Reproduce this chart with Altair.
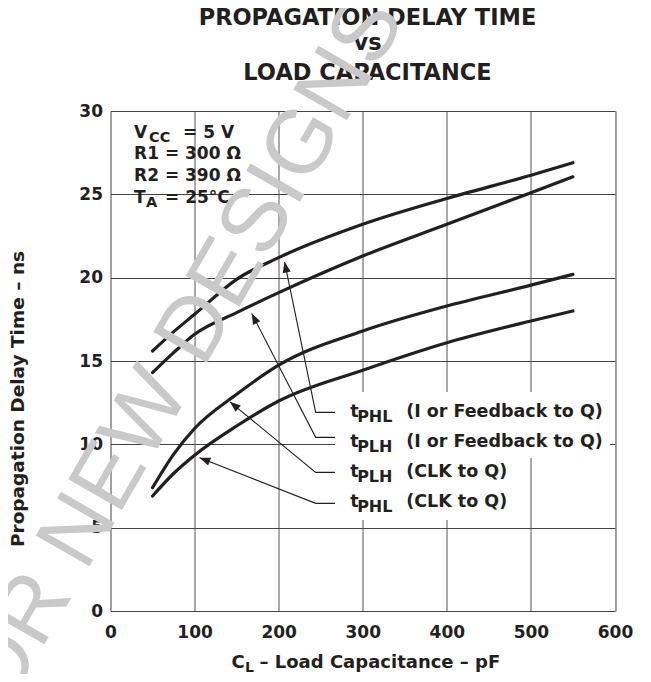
import math
import altair as alt
import pandas as pd

# ---------------- data ----------------
cap_pf = [50, 75, 100, 150, 200, 300, 400, 500, 550]
tphl_feedback = [15.6, 16.75, 17.8, 19.9, 21.2, 23.2, 24.75, 26.15, 26.9]
tplh_feedback = [14.3, 15.5, 16.6, 17.9, 19.1, 21.3, 23.2, 25.1, 26.05]
tplh_clk = [7.4, 9.4, 10.95, 13.0, 14.75, 16.8, 18.3, 19.55, 20.2]
tphl_clk = [6.9, 8.25, 9.35, 11.1, 12.6, 14.45, 16.1, 17.4, 18.0]

series_ids = ["tphl_fb", "tplh_fb", "tplh_clk", "tphl_clk"]
series_values = [tphl_feedback, tplh_feedback, tplh_clk, tphl_clk]

x_ticks = [0, 100, 200, 300, 400, 500, 600]
y_ticks = [0, 5, 10, 15, 20, 25, 30]

# curve labels
label_t = ["t", "t", "t", "t"]
label_sub = ["PHL", "PLH", "PLH", "PHL"]
label_rest = ["(I or Feedback to Q)", "(I or Feedback to Q)", "(CLK to Q)", "(CLK to Q)"]

# condition block
cond_main = ["V", "R1 = 300 \u03a9", "R2 = 390 \u03a9", "T"]
cond_sub = ["CC", "", "", "A"]
cond_rest = ["= 5 V", "", "", "= 25\u00b0C"]

title_lines = ["PROPAGATION DELAY TIME", "vs", "LOAD CAPACITANCE"]
x_title = ["C", "L", "\u2013 Load Capacitance \u2013 pF"]
y_title = "Propagation Delay Time \u2013 ns"
watermark = "NOT RECOMMENDED FOR NEW DESIGNS"

# ---------------- annotation geometry (in data units) ----------------
LABEL_X = 285
label_y = [11.62, 9.86, 8.02, 6.22]
leader_tip = [(207, 20.95), (168, 17.85), (142, 12.55), (106, 9.2)]
leader_y = [11.92, 10.42, 8.32, 6.46]
LEADER_BEND_X = 244
LEADER_END_X = 267
COND_X = 28
cond_y = [28.4, 27.1, 25.8, 24.5]

W, H = 504.5, 500.0
FONT = "DejaVu Sans"
INK = "#231f20"

xs = alt.Scale(domain=[0, 600], nice=False)
ys = alt.Scale(domain=[0, 30], nice=False)

curve_df = pd.DataFrame(
    [
        {"series": sid, "cap": c, "t": v}
        for sid, vals in zip(series_ids, series_values)
        for c, v in zip(cap_pf, vals)
    ]
)

x_axis = alt.Axis(
    values=x_ticks, format="d", title=None, ticks=False, domain=False,
    labelFont=FONT, labelFontSize=17, labelFontWeight="bold", labelColor=INK,
    labelPadding=13, gridColor="#555555", gridWidth=1, labelFlush=False,
)
y_axis = alt.Axis(
    values=y_ticks, format="d", title=None, ticks=False, domain=False,
    labelFont=FONT, labelFontSize=17, labelFontWeight="bold", labelColor=INK,
    labelPadding=8, gridColor="#444444", gridWidth=1,
)

curves = alt.Chart(curve_df).mark_line(
    strokeWidth=3.2, color=INK, interpolate="monotone", strokeCap="round"
).encode(
    x=alt.X("cap:Q", scale=xs, axis=x_axis),
    y=alt.Y("t:Q", scale=ys, axis=y_axis),
    detail="series:N",
)

# white boxes behind the labels (they hide the gridlines, as in the reference)
box_df = pd.DataFrame(
    {"x": [LEADER_END_X, LEADER_END_X], "x2": [594, 481],
     "y": [9.18, 5.46], "y2": [13.14, 9.18]}
)
boxes = alt.Chart(box_df).mark_rect(color="white").encode(
    x=alt.X("x:Q", scale=xs), x2="x2:Q",
    y=alt.Y("y:Q", scale=ys), y2="y2:Q",
)

# leader lines + arrowheads
lead_rows = []
arrow_rows = []
for i, ((tx, ty), ly) in enumerate(zip(leader_tip, leader_y)):
    lead_rows += [
        {"g": i, "o": 0, "x": tx, "y": ty},
        {"g": i, "o": 1, "x": LEADER_BEND_X, "y": ly},
        {"g": i, "o": 2, "x": LEADER_END_X, "y": ly},
    ]
    dxp = (tx - LEADER_BEND_X) * W / 600.0
    dyp = -(ty - ly) * H / 30.0
    ang = math.degrees(math.atan2(dxp, -dyp)) % 360
    arrow_rows.append({"x": tx, "y": ty, "a": ang})

leaders = alt.Chart(pd.DataFrame(lead_rows)).mark_line(
    color=INK, strokeWidth=1.1
).encode(
    x=alt.X("x:Q", scale=xs), y=alt.Y("y:Q", scale=ys),
    detail="g:N", order="o:O",
)
arrows = alt.Chart(pd.DataFrame(arrow_rows)).mark_point(
    shape="M0,0L-0.38,1L0.38,1Z", filled=True, color=INK, opacity=1, size=460,
    strokeWidth=0,
).encode(
    x=alt.X("x:Q", scale=xs), y=alt.Y("y:Q", scale=ys),
    angle=alt.Angle("a:Q", scale=None),
)

def txt(size, **kw):
    return dict(font=FONT, fontSize=size, fontWeight="bold", color=INK,
                align="left", baseline="alphabetic", **kw)

lab_df = pd.DataFrame(
    {"x": [LABEL_X] * 4, "y": label_y, "t": label_t, "s": label_sub, "r": label_rest}
)
lab_base = alt.Chart(lab_df).encode(x=alt.X("x:Q", scale=xs), y=alt.Y("y:Q", scale=ys))
lab_t = lab_base.mark_text(**txt(17.5)).encode(text="t:N")
lab_s = lab_base.mark_text(**txt(16, dx=7, dy=5)).encode(text="s:N")
lab_r = lab_base.mark_text(**txt(17.5, dx=56)).encode(text="r:N")

cond_df = pd.DataFrame(
    {"x": [COND_X] * 4, "y": cond_y, "m": cond_main, "s": cond_sub, "r": cond_rest}
)
cond_base = alt.Chart(cond_df).encode(x=alt.X("x:Q", scale=xs), y=alt.Y("y:Q", scale=ys))
cond_m = cond_base.mark_text(**txt(17)).encode(text="m:N")
cond_s1 = cond_base.transform_filter("datum.s == 'CC'").mark_text(
    **txt(14.5, dx=15, dy=4)).encode(text="s:N")
cond_s2 = cond_base.transform_filter("datum.s == 'A'").mark_text(
    **txt(14.5, dx=12, dy=4)).encode(text="s:N")
cond_r1 = cond_base.transform_filter("datum.s == 'CC'").mark_text(
    **txt(17, dx=49)).encode(text="r:N")
cond_r2 = cond_base.transform_filter("datum.s == 'A'").mark_text(
    **txt(17, dx=31)).encode(text="r:N")

# titles (pixel positions relative to the plot area)
one = pd.DataFrame({"k": [0]})
def ptext(t, px, py, size, **kw):
    return alt.Chart(one).mark_text(
        text=t, font=FONT, fontSize=size, fontWeight="bold", color=INK, **kw
    ).encode(x=alt.value(px), y=alt.value(py))

t1 = ptext(title_lines[0], 257, -93, 22.5, align="center", baseline="middle")
t2 = ptext(title_lines[1], 257, -68, 22.5, align="center", baseline="middle")
t3 = ptext(title_lines[2], 257, -38, 22.5, align="center", baseline="middle")

xt_c = ptext(x_title[0], 121, 557, 18, align="left", baseline="alphabetic")
xt_l = ptext(x_title[1], 134.5, 561, 14, align="left", baseline="alphabetic")
xt_r = ptext(x_title[2], 149, 557, 18, align="left", baseline="alphabetic")

yt = ptext(y_title, -93, 288, 18.5, align="center", baseline="middle", angle=270)

wm = alt.Chart(one).mark_text(
    text=watermark, font="Liberation Sans", fontSize=90,
    color="#c9c9c9", align="right", baseline="middle", angle=300,
).encode(x=alt.value(272), y=alt.value(-106))

chart = alt.layer(
    curves, boxes, leaders, arrows, lab_t, lab_s, lab_r,
    cond_m, cond_s1, cond_s2, cond_r1, cond_r2,
    t1, t2, t3, xt_c, xt_l, xt_r, yt, wm,
).properties(
    width=W, height=H,
    autosize=alt.AutoSizeParams(type="none"),
    padding={"left": 102.5, "top": 103, "right": 28, "bottom": 63},
).configure_view(
    stroke=INK, strokeWidth=2.6
).configure(background="white")

chart.save("out.html", embed_options={"renderer": "svg", "actions": False})
